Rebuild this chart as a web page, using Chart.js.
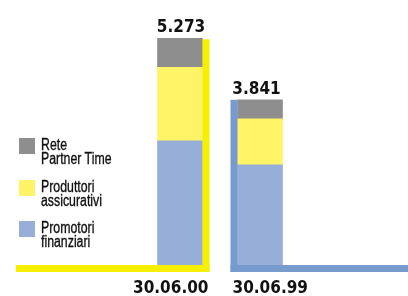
<!DOCTYPE html>
<html>
<head>
<meta charset="utf-8">
<script src="https://cdn.jsdelivr.net/npm/chart.js@4.4.0/dist/chart.umd.min.js"></script>
<style>
  body { margin: 0; background: #fff; }
  #wrap { position: relative; width: 408px; height: 296px; overflow: hidden; }
  #legend { position: absolute; left: 19px; top: 138px; font-family: "Liberation Sans", Arial, sans-serif; font-size: 16px; line-height: 14px; color: #111; }
  .item { display: flex; align-items: flex-start; height: 28px; margin-bottom: 13.5px; }
  .box { width: 16px; height: 16px; margin-right: 6px; flex: none; }
  .txt { transform: scaleX(0.77); transform-origin: 0 0; white-space: nowrap; -webkit-text-stroke: 0.35px #111; }
</style>
</head>
<body>
<div id="wrap">
  <canvas id="chart" width="408" height="296"></canvas>
  <div id="legend"></div>
</div>
<script>
const categories = ["30.06.00", "30.06.99"];
const promotori = [2887, 2330];
const produttori = [1712, 1070];
const rete = [674, 441];
const seriesLabels = [["Promotori", "finanziari"], ["Produttori", "assicurativi"], ["Rete", "Partner Time"]];
const seriesColors = ["#97afd8", "#fff467", "#8e8e8e"];
const frameColors = ["#f7ef00", "#789bcd"];

const numFont = '"DejaVu Sans Condensed", "DejaVu Sans", sans-serif';

function fmt(n) {
  return String(n).replace(/\B(?=(\d{3})+(?!\d))/g, ".");
}

// L-shaped frames, totals and category labels
const decor = {
  id: "decor",
  afterDatasetsDraw(chart) {
    const ctx = chart.ctx;
    const y = chart.scales.y;
    const base = y.getPixelForValue(0);
    const last = chart.getDatasetMeta(chart.data.datasets.length - 1);
    const thick = 7;
    ctx.save();
    categories.forEach((cat, i) => {
      const bar = last.data[i];
      const total = promotori[i] + produttori[i] + rete[i];
      const top = y.getPixelForValue(total);
      const left = bar.x - bar.width / 2;
      const right = bar.x + bar.width / 2;
      ctx.fillStyle = frameColors[i];
      if (i === 0) {
        ctx.fillRect(right, top + 1, thick, base - top - 1 + thick);
        ctx.fillRect(16, base, right + thick - 16, thick);
      } else {
        ctx.fillRect(left - thick, top, thick, base - top + thick);
        ctx.fillRect(left - thick, base, chart.width - left + thick, thick);
      }
      ctx.fillStyle = "#111";
      ctx.font = "bold 17px " + numFont;
      ctx.textBaseline = "alphabetic";
      ctx.textAlign = "center";
      const cx = i === 0 ? bar.x + 1 : bar.x - 3.5;
      ctx.fillText(fmt(total), cx, top - 6);
      if (i === 0) {
        ctx.textAlign = "right";
        ctx.fillText(cat, right + thick - 1, base + 28);
      } else {
        ctx.textAlign = "left";
        ctx.fillText(cat, left - thick + 2, base + 28);
      }
    });
    ctx.restore();
  }
};

const ctx = document.getElementById("chart").getContext("2d");

const chart = new Chart(ctx, {
  type: "bar",
  data: {
    labels: categories,
    datasets: [
      { label: seriesLabels[0], data: promotori, backgroundColor: seriesColors[0] },
      { label: seriesLabels[1], data: produttori, backgroundColor: seriesColors[1] },
      { label: seriesLabels[2], data: rete, backgroundColor: seriesColors[2] }
    ]
  },
  options: {
    responsive: false,
    animation: false,
    layout: { padding: { left: 140, right: 108, top: 7, bottom: 31 } },
    datasets: { bar: { barThickness: 45, borderWidth: 0 } },
    scales: {
      x: { stacked: true, display: false },
      y: { stacked: true, display: false, min: 0, max: 6000 }
    },
    plugins: {
      legend: { display: false },
      tooltip: { enabled: false }
    }
  },
  plugins: [decor]
});

// legend, top item first (reverse of stack order)
const legend = document.getElementById("legend");
for (let i = seriesLabels.length - 1; i >= 0; i--) {
  const item = document.createElement("div");
  item.className = "item";
  const box = document.createElement("div");
  box.className = "box";
  box.style.background = seriesColors[i];
  const txt = document.createElement("div");
  txt.className = "txt";
  txt.innerHTML = seriesLabels[i].join("<br>");
  item.appendChild(box);
  item.appendChild(txt);
  legend.appendChild(item);
}
</script>
</body>
</html>
